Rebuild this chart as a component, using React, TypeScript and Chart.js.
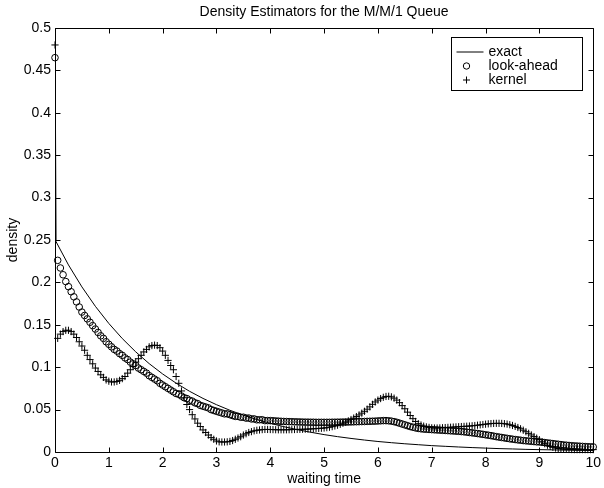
import { useEffect, useRef } from "react";
import { Chart, registerables } from "chart.js";
Chart.register(...registerables);

const FONT = "'Liberation Sans', Arial, Helvetica, sans-serif";

const titleText = "Density Estimators for the M/M/1 Queue";
const xTitle = "waiting time";
const yTitle = "density";
const seriesNames = ["exact", "look-ahead", "kernel"];

const xTickValues = [0, 1, 2, 3, 4, 5, 6, 7, 8, 9, 10];
const xTickLabels = ["0", "1", "2", "3", "4", "5", "6", "7", "8", "9", "10"];
const yTickValues = [0, 0.05, 0.1, 0.15, 0.2, 0.25, 0.3, 0.35, 0.4, 0.45, 0.5];
const yTickLabels = ["0", "0.05", "0.1", "0.15", "0.2", "0.25", "0.3", "0.35", "0.4", "0.45", "0.5"];

// exact density (point mass shown as spike at 0)
const exactX = [0, 0.02, 0.25, 0.5, 0.75, 1, 1.25, 1.5, 1.75, 2, 2.25, 2.5, 2.75, 3, 3.25, 3.5, 3.75, 4, 4.25, 4.5, 4.75, 5, 5.25, 5.5, 5.75, 6, 6.25, 6.5, 6.75, 7, 7.25, 7.5, 7.75, 8, 8.25, 8.5, 8.75, 9, 9.25, 9.5, 9.75, 10];
const exactY = [0.5, 0.248, 0.2206, 0.1947, 0.1718, 0.1516, 0.1338, 0.1181, 0.1042, 0.092, 0.0812, 0.0716, 0.0632, 0.0558, 0.0492, 0.0434, 0.0383, 0.0338, 0.0299, 0.0264, 0.0233, 0.0205, 0.0181, 0.016, 0.0141, 0.0124, 0.011, 0.0097, 0.0086, 0.0075, 0.0067, 0.0059, 0.0052, 0.0046, 0.004, 0.0036, 0.0031, 0.0028, 0.0025, 0.0022, 0.0019, 0.0017];

// sample grid for the estimators: 0, 0.05, ..., 10
const sampleStep = 0.05;
const sampleX = Array.from({ length: 201 }, (_, i) => Math.round(i * sampleStep * 100) / 100);

const lookAhead = [
  0.465, 0.226, 0.217, 0.209, 0.201, 0.195, 0.189, 0.183, 0.177, 0.171,
  0.165, 0.161, 0.157, 0.153, 0.149, 0.145, 0.141, 0.137, 0.134, 0.13,
  0.127, 0.124, 0.121, 0.119, 0.116, 0.114, 0.111, 0.109, 0.106, 0.104,
  0.102, 0.099, 0.097, 0.095, 0.093, 0.09, 0.088, 0.086, 0.084, 0.081,
  0.079, 0.077, 0.075, 0.073, 0.071, 0.069, 0.068, 0.066, 0.064, 0.063,
  0.061, 0.06, 0.058, 0.057, 0.055, 0.054, 0.053, 0.052, 0.05, 0.049,
  0.048, 0.047, 0.046, 0.045, 0.045, 0.044, 0.043, 0.042, 0.042, 0.041,
  0.041, 0.04, 0.04, 0.039, 0.039, 0.038, 0.038, 0.038, 0.037, 0.037,
  0.037, 0.0368, 0.0366, 0.0364, 0.0362, 0.036, 0.0359, 0.0358, 0.0357, 0.0356,
  0.0355, 0.0354, 0.0353, 0.0352, 0.0352, 0.0351, 0.0351, 0.035, 0.035, 0.035,
  0.035, 0.035, 0.035, 0.0351, 0.0351, 0.0352, 0.0352, 0.0353, 0.0353, 0.0354,
  0.0355, 0.0356, 0.0357, 0.0358, 0.0359, 0.036, 0.0361, 0.0362, 0.0363, 0.0364,
  0.0366, 0.0368, 0.037, 0.037, 0.0368, 0.0364, 0.0358, 0.035, 0.034, 0.033,
  0.032, 0.031, 0.03, 0.0292, 0.0284, 0.0278, 0.0274, 0.027, 0.0268, 0.0266,
  0.0264, 0.0262, 0.026, 0.0258, 0.0256, 0.0254, 0.0252, 0.025, 0.0248, 0.0246,
  0.0244, 0.0241, 0.0238, 0.0234, 0.023, 0.0226, 0.0222, 0.0218, 0.0213, 0.0208,
  0.0203, 0.0198, 0.0193, 0.0187, 0.0181, 0.0176, 0.0171, 0.0166, 0.0161, 0.0156,
  0.0151, 0.0147, 0.0143, 0.0139, 0.0135, 0.0132, 0.0129, 0.0126, 0.0123, 0.012,
  0.0118, 0.0115, 0.0111, 0.0107, 0.0103, 0.0099, 0.0095, 0.0091, 0.0087, 0.0083,
  0.008, 0.0077, 0.0074, 0.0072, 0.007, 0.0068, 0.0066, 0.0064, 0.0062, 0.0061,
  0.006,
];

const kernel = [
  0.48, 0.134, 0.139, 0.142, 0.1435, 0.1435, 0.142, 0.139, 0.135, 0.13,
  0.125, 0.12, 0.114, 0.109, 0.104, 0.099, 0.095, 0.091, 0.088, 0.085,
  0.0835, 0.0826, 0.0826, 0.0832, 0.0845, 0.0865, 0.089, 0.093, 0.097, 0.101,
  0.106, 0.11, 0.114, 0.118, 0.121, 0.124, 0.1255, 0.126, 0.1255, 0.123,
  0.119, 0.114, 0.108, 0.102, 0.097, 0.089, 0.081, 0.072, 0.064, 0.056,
  0.05, 0.044, 0.039, 0.034, 0.03, 0.026, 0.023, 0.02, 0.017, 0.015,
  0.013, 0.012, 0.0118, 0.0118, 0.012, 0.0125, 0.0135, 0.015, 0.0165, 0.018,
  0.02, 0.0215, 0.023, 0.024, 0.025, 0.0256, 0.026, 0.0264, 0.0266, 0.0266,
  0.0265, 0.0264, 0.0263, 0.0262, 0.0262, 0.0262, 0.0262, 0.0263, 0.0264, 0.0265,
  0.0266, 0.0267, 0.0268, 0.0269, 0.027, 0.0272, 0.0274, 0.0276, 0.0278, 0.028,
  0.0283, 0.0287, 0.0292, 0.0299, 0.0307, 0.0316, 0.0327, 0.0339, 0.0352, 0.0367,
  0.0383, 0.04, 0.0418, 0.0437, 0.0458, 0.048, 0.0505, 0.0532, 0.0562, 0.059,
  0.0612, 0.063, 0.0645, 0.0655, 0.0657, 0.065, 0.0635, 0.0612, 0.0582, 0.0547,
  0.051, 0.047, 0.043, 0.0393, 0.036, 0.0334, 0.0318, 0.0305, 0.0296, 0.029,
  0.0285, 0.0283, 0.0283, 0.0284, 0.0286, 0.0288, 0.029, 0.0292, 0.0294, 0.0296,
  0.0298, 0.03, 0.0302, 0.0304, 0.0306, 0.0309, 0.0312, 0.0316, 0.032, 0.0324,
  0.0328, 0.0332, 0.0335, 0.0337, 0.0338, 0.0338, 0.0337, 0.0334, 0.0329, 0.0322,
  0.0313, 0.0302, 0.0289, 0.0274, 0.0257, 0.0239, 0.022, 0.0201, 0.0182, 0.0163,
  0.0145, 0.012, 0.0098, 0.008, 0.0066, 0.0055, 0.0047, 0.0041, 0.0037, 0.0034,
  0.0032, 0.003, 0.0029, 0.0028, 0.0028, 0.0028, 0.0028, 0.0028, 0.0028, 0.0028,
  0.0028,
];

const boxPlugin = {
  id: "matlabBox",
  afterDraw(chart: any) {
    const { ctx, chartArea: a, scales } = chart;
    const tl = 5;
    ctx.save();
    ctx.strokeStyle = "#000";
    ctx.lineWidth = 1;
    ctx.beginPath();
    const L = Math.round(a.left) + 0.5, R = Math.round(a.right) + 0.5;
    const T = Math.round(a.top) + 0.5, B = Math.round(a.bottom) + 0.5;
    ctx.rect(L, T, R - L, B - T);
    xTickValues.forEach((v) => {
      const px = Math.round(scales.x.getPixelForValue(v)) + 0.5;
      ctx.moveTo(px, B); ctx.lineTo(px, B - tl);
      ctx.moveTo(px, T); ctx.lineTo(px, T + tl);
    });
    yTickValues.forEach((v) => {
      const py = Math.round(scales.y.getPixelForValue(v)) + 0.5;
      ctx.moveTo(L, py); ctx.lineTo(L + tl, py);
      ctx.moveTo(R, py); ctx.lineTo(R - tl, py);
    });
    ctx.stroke();

    // title, centred over the plot area
    ctx.font = `14px ${FONT}`;
    ctx.fillStyle = "#000";
    ctx.textBaseline = "middle";
    ctx.textAlign = "center";
    ctx.fillText(titleText, (a.left + a.right) / 2, a.top - 16);

    // legend
    const bw = 131, bh = 53;
    const bx = Math.round(a.right) - 11 - bw + 0.5;
    const by = Math.round(a.top) + 9 + 0.5;
    ctx.fillStyle = "#fff";
    ctx.fillRect(bx, by, bw, bh);
    ctx.strokeRect(bx, by, bw, bh);
    ctx.fillStyle = "#000";
    ctx.textAlign = "left";
    const rows = [by + 14.5, by + 28.5, by + 42.5];
    const mx = bx + 15;
    ctx.beginPath();
    ctx.moveTo(bx + 5, rows[0]);
    ctx.lineTo(bx + 32, rows[0]);
    ctx.stroke();
    ctx.beginPath();
    ctx.arc(mx, rows[1], 3.2, 0, Math.PI * 2);
    ctx.stroke();
    ctx.beginPath();
    ctx.moveTo(mx - 3.5, rows[2]); ctx.lineTo(mx + 3.5, rows[2]);
    ctx.moveTo(mx, rows[2] - 3.5); ctx.lineTo(mx, rows[2] + 3.5);
    ctx.stroke();
    seriesNames.forEach((n, i) => ctx.fillText(n, bx + 37, rows[i]));
    ctx.restore();
  },
};

export default function App() {
  const ref = useRef<HTMLCanvasElement>(null);
  useEffect(() => {
    document.body.style.margin = "0";
    const canvas = ref.current!;
    const chart = new Chart(canvas, {
      type: "scatter",
      data: {
        datasets: [
          {
            label: seriesNames[0],
            data: exactX.map((x, i) => ({ x, y: exactY[i] })),
            showLine: true,
            borderColor: "#000",
            borderWidth: 1,
            pointRadius: 0,
            tension: 0,
          },
          {
            label: seriesNames[1],
            data: sampleX.map((x, i) => ({ x, y: lookAhead[i] })),
            showLine: false,
            pointStyle: "circle",
            pointRadius: 3.3,
            borderColor: "#000",
            backgroundColor: "rgba(0,0,0,0)",
            pointBorderWidth: 1,
            clip: 10,
          },
          {
            label: seriesNames[2],
            data: sampleX.map((x, i) => ({ x, y: kernel[i] })),
            showLine: false,
            pointStyle: "cross",
            pointRadius: 3.6,
            borderColor: "#000",
            backgroundColor: "#000",
            pointBorderWidth: 1,
            clip: 10,
          },
        ] as any,
      },
      options: {
        responsive: false,
        animation: false,
        layout: { padding: { top: 28, right: 9, left: 0, bottom: 0 } },
        plugins: {
          legend: { display: false },
          tooltip: { enabled: false },
          title: { display: false },
        },
        scales: {
          x: {
            type: "linear",
            min: 0,
            max: 10,
            grid: { display: false, drawTicks: false },
            border: { display: false },
            afterBuildTicks: (s: any) => { s.ticks = xTickValues.map((v) => ({ value: v })); },
            afterFit: (s: any) => { s.height = 36; },
            ticks: {
              color: "#000",
              font: { family: FONT, size: 14 },
              padding: 3,
              maxRotation: 0,
              callback: (_v: any, i: number) => xTickLabels[i],
            },
            title: {
              display: true,
              text: xTitle,
              color: "#000",
              font: { family: FONT, size: 14 },
              padding: { top: 1.6, bottom: 0 },
            },
          },
          y: {
            type: "linear",
            min: 0,
            max: 0.5,
            grid: { display: false, drawTicks: false },
            border: { display: false },
            afterBuildTicks: (s: any) => { s.ticks = yTickValues.map((v) => ({ value: v })); },
            afterFit: (s: any) => { s.width = 55; },
            ticks: {
              color: "#000",
              font: { family: FONT, size: 14 },
              padding: 4,
              callback: (_v: any, i: number) => yTickLabels[i],
            },
            title: {
              display: true,
              text: yTitle,
              color: "#000",
              font: { family: FONT, size: 14 },
              padding: { top: 4.6, bottom: 0 },
            },
          },
        },
      } as any,
      plugins: [boxPlugin],
    });
    return () => chart.destroy();
  }, []);
  return <canvas ref={ref} width={604} height={488} style={{ display: "block" }} />;
}
